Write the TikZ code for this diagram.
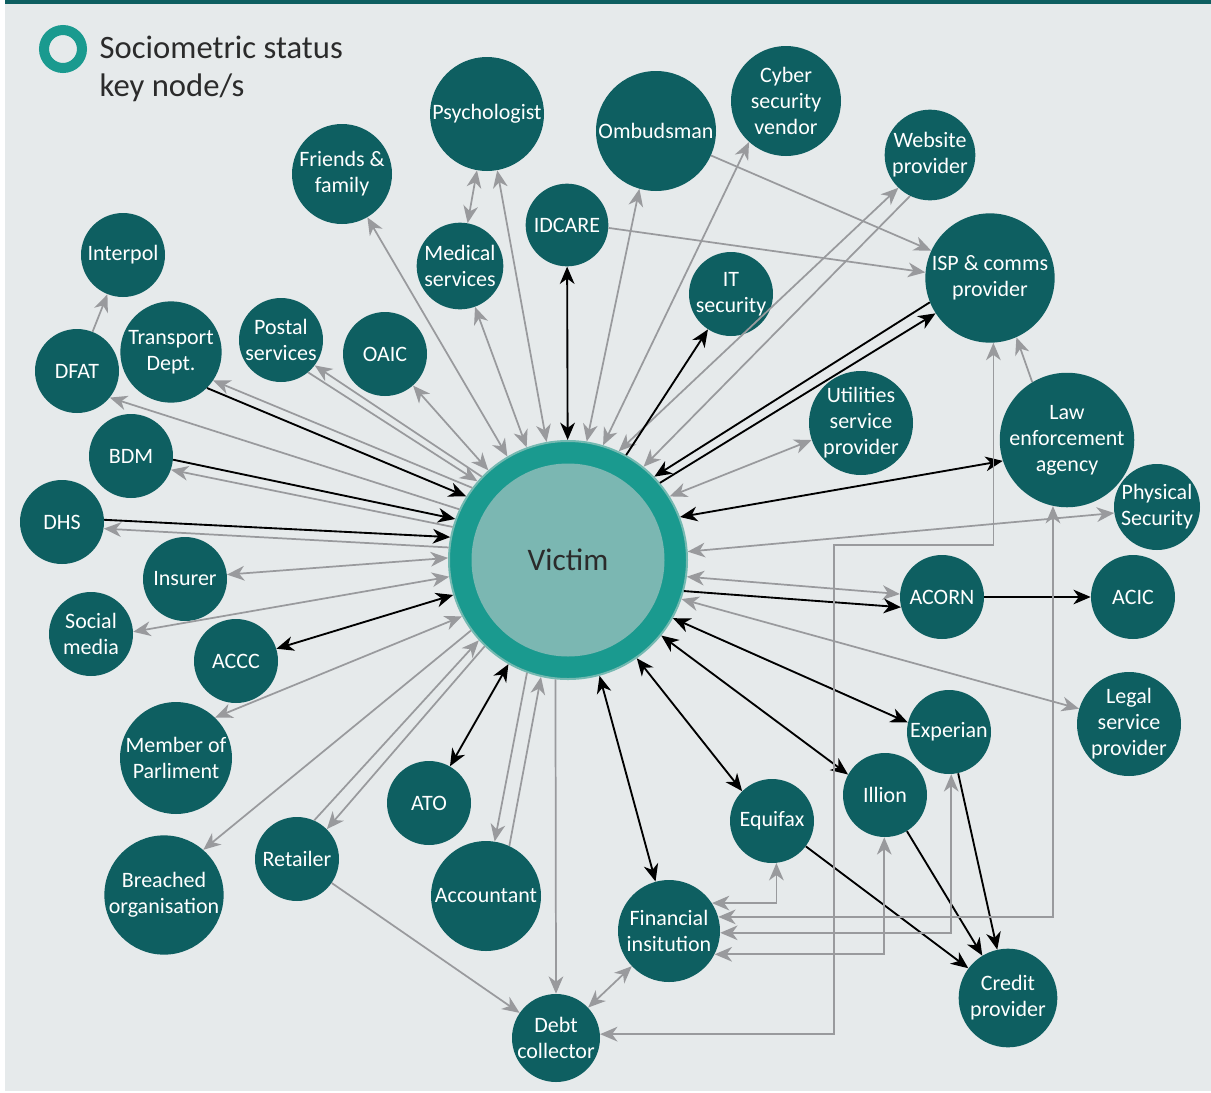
\documentclass[tikz,border=0pt]{standalone}
\usepackage{fontspec}
\setmainfont{Carlito}
\usetikzlibrary{arrows.meta}

\definecolor{nodeteal}{HTML}{0E5F61}
\definecolor{ringteal}{HTML}{1A9A8F}
\definecolor{coreteal}{HTML}{7BB7B2}
\definecolor{rimteal}{HTML}{74B9B1}
\definecolor{edgegray}{HTML}{999A9D}
\definecolor{paper}{HTML}{E6EAEB}
\definecolor{inkgray}{HTML}{2B2B2B}

\tikzset{
  actor/.style={circle, fill=nodeteal, text=white, align=center, inner sep=0pt,
    font=\fontsize{16.5}{19.5}\selectfont},
  gline/.style={draw=edgegray, line width=1.3pt},
  bline/.style={draw=black, line width=1.4pt},
}

\begin{document}
\begin{tikzpicture}[x=0.75pt, y=-0.75pt, >={Stealth[length=13pt,width=11pt,inset=4pt]}]
  \useasboundingbox (0,0) rectangle (1211,1093);
  \fill[white] (0,0) rectangle (1211,1093);
  \fill[paper] (5,4) rectangle (1211,1091);
  \fill[nodeteal] (5,0) rectangle (1211,4);

  \node[circle, draw=ringteal, line width=7.5pt, minimum size=28.5pt, inner sep=0pt] (keyring) at (63,49) {};
  \node[anchor=west, align=left, text=inkgray, font=\fontsize{24.5}{28.5}\selectfont] (keytext) at (95,69) {Sociometric status\\key node/s};

  \node[circle, fill=ringteal, draw=rimteal, line width=1.5pt, minimum size=178.5pt, inner sep=0pt] (vic) at (568,560) {};
  \node[circle, fill=coreteal, minimum size=144.75pt, inner sep=0pt, text=inkgray,
    font=\fontsize{23.5}{28}\selectfont] (vcore) at (vic) {Victim};

  \node[actor, minimum size=63pt] (intp) at (123,255) {Interpol};
  \node[actor, minimum size=75pt] (fam) at (342,174) {Friends \&\\family};
  \node[actor, minimum size=85.5pt] (psy) at (487,114) {Psychologist};
  \node[actor, minimum size=90pt] (omb) at (656,131) {Ombudsman};
  \node[actor, minimum size=82.5pt] (cyb) at (786,101) {Cyber\\security\\vendor};
  \node[actor, minimum size=68pt] (web) at (930,155) {Website\\provider};
  \node[actor, minimum size=97pt] (isp) at (990,278) {ISP \& comms\\provider};
  \node[actor, minimum size=65pt] (med) at (460,266) {Medical\\services};
  \node[actor, minimum size=62pt] (idc) at (567,225) {IDCARE};
  \node[actor, minimum size=63pt] (its) at (731,294) {IT\\security};
  \node[actor, minimum size=63pt] (dfat) at (77,371) {DFAT};
  \node[actor, minimum size=76pt] (trans) at (171,352) {Transport\\Dept.};
  \node[actor, minimum size=63pt] (post) at (281,340) {Postal\\services};
  \node[actor, minimum size=63pt] (oaic) at (385,354) {OAIC};
  \node[actor, minimum size=78pt] (util) at (861,423) {Utilities\\service\\provider};
  \node[actor, minimum size=90pt] (law) at (1067,440) {Law\\enforcement\\agency};
  \node[actor, minimum size=64.5pt] (phys) at (1157,507) {Physical\\Security};
  \node[actor, minimum size=63pt] (bdm) at (131,456) {BDM};
  \node[actor, minimum size=63pt] (dhs) at (62,522) {DHS};
  \node[actor, minimum size=63pt] (ins) at (185,579) {Insurer};
  \node[actor, minimum size=63pt] (soc) at (91,634) {Social\\media};
  \node[actor, minimum size=63pt] (accc) at (236,661) {ACCC};
  \node[actor, minimum size=63pt] (acorn) at (942,597) {ACORN};
  \node[actor, minimum size=63pt] (acic) at (1133,597) {ACIC};
  \node[actor, minimum size=84pt] (mp) at (176,758) {Member of\\Parliment};
  \node[actor, minimum size=88.5pt] (brc) at (164,895) {Breached\\organisation};
  \node[actor, minimum size=63pt] (ret) at (297,859) {Retailer};
  \node[actor, minimum size=63pt] (ato) at (429,803) {ATO};
  \node[actor, minimum size=82.5pt] (acc) at (486,896) {Accountant};
  \node[actor, minimum size=66pt] (debt) at (556,1038) {Debt\\collector};
  \node[actor, minimum size=63pt] (exp) at (949,732) {Experian};
  \node[actor, minimum size=78pt] (legal) at (1129,724) {Legal\\service\\provider};
  \node[actor, minimum size=63pt] (ill) at (885,795) {Illion};
  \node[actor, minimum size=63pt] (equ) at (772,821) {Equifax};
  \node[actor, minimum size=76.5pt] (fin) at (669,931) {Financial\\insitution};
  \node[actor, minimum size=74pt] (cred) at (1008,998) {Credit\\provider};
  \coordinate (bend) at (834,545);

  \draw[gline, <->] (fam) -- (vic);
  \draw[gline, <->] (med) -- (vic);
  \draw[gline, <->] (psy) -- (vic);
  \draw[gline, <->] (med) -- (psy);
  \draw[bline, <->] (idc) -- (vic);
  \draw[gline, <->] (omb.254) -- (vic.81);
  \draw[gline, <->] (cyb.228) -- (vic.73);
  \draw[gline, <->] (web.226) -- (vic.65);
  \draw[gline, ->] (web.244) -- (vic.51);
  \draw[bline, ->] (vic.61) -- (its);
  \draw[bline, ->] (isp.202) -- (vic.44);
  \draw[bline, ->] (vic.40) -- (isp.213);
  \draw[gline, ->] (omb.-24) -- (isp.155);
  \draw[gline, ->] (idc.-4) -- (isp.175);
  \draw[gline, ->] (law.121) -- (isp.-66);

  \draw[gline, <->] (vic.32) -- (util.199);
  \draw[bline, <->] (vic.21) -- (law.198);
  \draw[gline, <->] (vic.4) -- (phys.188);
  \draw[gline, <->] (vic.-8) -- (acorn.176);
  \draw[bline, ->] (vic.-15) -- (acorn.194);
  \draw[bline, ->] (acorn) -- (acic);
  \draw[gline, <->] (vic.-19) -- (legal.163);

  \draw[bline, <->] (vic.-29) -- (exp.167);
  \draw[bline, <->] (vic.-39) -- (ill.151);
  \draw[bline, <->] (vic.-55) -- (equ.135);
  \draw[bline, <->] (vic) -- (fin);
  \draw[bline, ->] (equ) -- (cred);
  \draw[bline, ->] (ill) -- (cred);
  \draw[bline, ->] (exp) -- (cred);

  \draw[gline, <->] (fin.33) -| (equ.-84);
  \draw[gline, <->] (fin.16) -| (law.258);
  \draw[gline, <->] (fin.-2) -| (exp.-87);
  \draw[gline, <->] (fin.-27) -| (ill.-91);
  \draw[gline, <->] (debt.5) -| (bend) -| (isp.-87);

  \draw[gline, <->] (fin) -- (debt);
  \draw[gline, ->] (vic.-96) -- (debt.90);
  \draw[gline, ->] (ret) -- (debt);
  \draw[gline, ->] (vic.250) -- (acc.81);
  \draw[gline, ->] (acc.65) -- (vic.257);
  \draw[bline, <->] (vic) -- (ato);

  \draw[gline, ->] (ret.66) -- (vic.222);
  \draw[gline, ->] (vic.226) -- (ret.45);
  \draw[gline, ->] (vic.216) -- (brc.49);
  \draw[gline, <->] (mp.46) -- (vic.208);
  \draw[bline, <->] (accc) -- (vic);
  \draw[gline, <->] (soc.3) -- (vic.188);
  \draw[gline, <->] (ins.6) -- (vic.179);

  \draw[bline, ->] (dhs.3) -- (vic.169);
  \draw[gline, ->] (vic.174) -- (dhs.-9);
  \draw[bline, ->] (bdm.-5) -- (vic.160);
  \draw[gline, ->] (vic.164) -- (bdm.-19);
  \draw[gline, ->] (vic.155) -- (dfat.-39);
  \draw[gline, ->] (dfat) -- (intp);
  \draw[bline, ->] (trans.-45) -- (vic.148);
  \draw[gline, ->] (vic.143) -- (trans.-34);
  \draw[gline, ->] (post.-50) -- (vic.139);
  \draw[gline, ->] (vic.136) -- (post.-37);
  \draw[gline, <->] (oaic) -- (vic);
\end{tikzpicture}
\end{document}
